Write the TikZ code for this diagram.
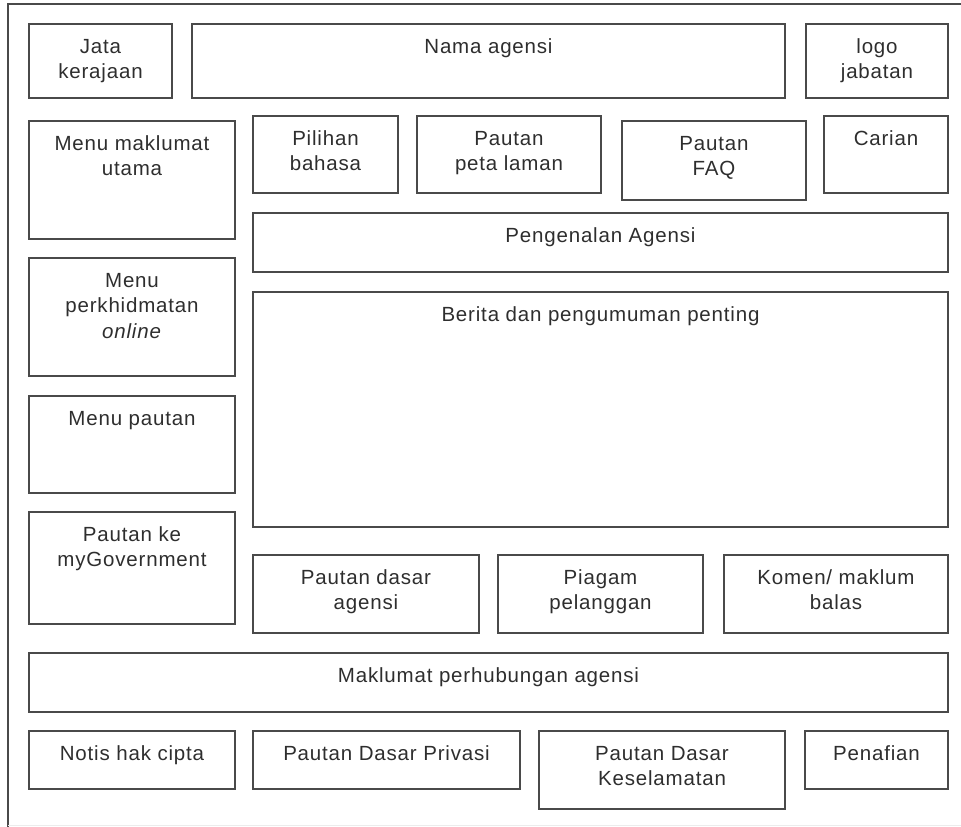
\documentclass[tikz,border=0pt]{standalone}
\usepackage{fontspec}
\setmainfont{Liberation Sans}[LetterSpace=4]
\usetikzlibrary{fit}
\definecolor{linec}{HTML}{4A4A4A}
\definecolor{textc}{HTML}{2E2E2E}
\tikzset{
  box/.style={draw=linec, line width=1.6pt, inner sep=0pt, fit={#1}},
  lbl/.style={anchor=north, align=center, inner sep=0pt, text=textc,
    font=\fontsize{20.5}{25.5}\selectfont},
  frame/.style={draw=linec, line width=1.6pt}
}
\newcommand{\bx}[6]{%
  \node[box={(#2,#3) (#4,#5)}] (#1) {};
  \node[lbl] (#1-t) at ([yshift=-14.5pt]#1.north) {\rule{0pt}{15.5pt}#6};
}
\begin{document}
\begin{tikzpicture}[x=1pt,y=-1pt]
\useasboundingbox (0,0) rectangle (961,827);
\coordinate (fr1) at (961,4);
\coordinate (fr2) at (8,4);
\coordinate (fr3) at (8,827);
\draw[frame] (fr1) -- (fr2) -- (fr3);
\coordinate (bl1) at (8,825);
\coordinate (bl2) at (961,825);
\draw[gray!15, line width=1pt] (bl1) -- (bl2);
% row 1
\bx{jata}{29}{24}{172}{98}{Jata\\kerajaan}
\bx{nama}{192}{24}{785}{98}{Nama agensi}
\bx{logo}{806}{24}{948}{98}{logo\\jabatan}
% row 2
\bx{menu1}{29}{121}{235}{239}{Menu maklumat\\utama}
\bx{bahasa}{253}{116}{398}{193}{Pilihan\\bahasa}
\bx{peta}{417}{116}{601}{193}{Pautan\\peta laman}
\bx{faq}{622}{121}{806}{200}{Pautan\\FAQ}
\bx{carian}{824}{116}{948}{193}{Carian}
\bx{kenal}{253}{213}{948}{272}{Pengenalan Agensi}
% left column
\bx{menu2}{29}{258}{235}{376}{Menu\\perkhidmatan\\\textit{online}}
\bx{menu3}{29}{396}{235}{493}{Menu pautan}
\bx{mygov}{29}{512}{235}{624}{Pautan ke\\myGovernment}
\bx{berita}{253}{292}{948}{527}{Berita dan pengumuman penting}
% row of links
\bx{dasar}{253}{555}{479}{633}{Pautan dasar\\agensi}
\bx{piagam}{498}{555}{703}{633}{Piagam\\pelanggan}
\bx{komen}{724}{555}{948}{633}{Komen/ maklum\\balas}
\bx{hubung}{29}{653}{948}{712}{Maklumat perhubungan agensi}
% footer
\bx{notis}{29}{731}{235}{789}{Notis hak cipta}
\bx{privasi}{253}{731}{520}{789}{Pautan Dasar Privasi}
\bx{selamat}{539}{731}{785}{809}{Pautan Dasar\\Keselamatan}
\bx{penafian}{805}{731}{948}{789}{Penafian}
\end{tikzpicture}
\end{document}
